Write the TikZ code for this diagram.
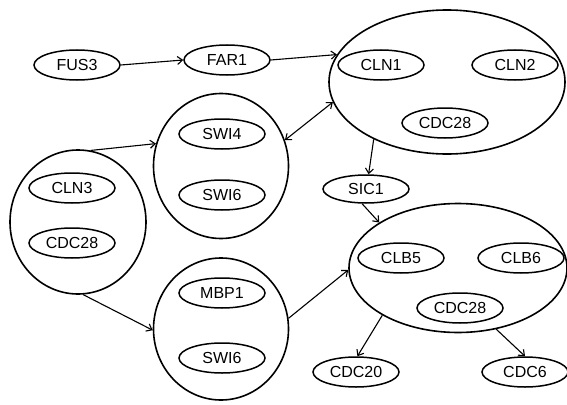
\documentclass[tikz,border=0pt]{standalone}
\usepackage{fontspec}
\setmainfont{Liberation Sans}
\usetikzlibrary{shapes.geometric,arrows.meta}
\begin{document}
\begin{tikzpicture}[x=1pt,y=-1pt,
  gene/.style={ellipse,draw,line width=1.5pt,inner sep=0pt,minimum width=86pt,minimum height=30pt,font=\fontsize{16}{18}\selectfont},
  group/.style={ellipse,draw,line width=1.6pt,inner sep=0pt},
  link/.style={line width=1.1pt,-{Straight Barb[length=5pt,width=8pt]}},
  both/.style={line width=1.1pt,{Straight Barb[length=5pt,width=8pt]}-{Straight Barb[length=5pt,width=8pt]}}]
\useasboundingbox (0,0) rectangle (567,404);
% groups
\node[group,minimum width=236pt,minimum height=144pt] (G1) at (447,82) {};
\node[group,minimum width=218pt,minimum height=129pt] (G2) at (458,268) {};
\node[group,minimum width=135pt,minimum height=145pt] (G3) at (221,166) {};
\node[group,minimum width=136pt,minimum height=144pt] (G4) at (78,222) {};
\node[group,minimum width=135pt,minimum height=142pt] (G5) at (221,329) {};
% genes
\node[gene] (FUS3) at (77,65) {FUS3};
\node[gene] (FAR1) at (227,60) {FAR1};
\node[gene] (CLN1) at (381,65) {CLN1};
\node[gene] (CLN2) at (515,65) {CLN2};
\node[gene] (CDCa) at (445,123) {CDC28};
\node[gene,minimum height=28pt] (SIC1) at (366,189) {SIC1};
\node[gene] (SWI4) at (222,134) {SWI4};
\node[gene] (SWIa) at (222,195) {SWI6};
\node[gene] (CLN3) at (72,188) {CLN3};
\node[gene] (CDCb) at (72,243) {CDC28};
\node[gene] (MBP1) at (222,293) {MBP1};
\node[gene] (SWIb) at (222,358) {SWI6};
\node[gene] (CLB5) at (401,258) {CLB5};
\node[gene] (CLB6) at (521,258) {CLB6};
\node[gene] (CDCc) at (460,308) {CDC28};
\node[gene] (CDC20) at (356,372) {CDC20};
\node[gene] (CDC6) at (525,372) {CDC6};
% connectors
\draw[link] (FUS3.east) -- (FAR1.west);
\draw[link] (FAR1.east) -- (G1.166);
\draw[link] (G1.218) -- (SIC1.80);
\draw[link] (SIC1.255) -- (G2.150);
\draw[link] (G2.212) -- (CDC20.85);
\draw[link] (G2.302) -- (CDC6.north);
\draw[link] (G4.80) -- (G3.161);
\draw[link] (G4.274) -- (G5.181);
\draw[both] (G3.22) -- (G1.190);
\draw[link] (G5.9) -- (G2.181);
\end{tikzpicture}
\end{document}
